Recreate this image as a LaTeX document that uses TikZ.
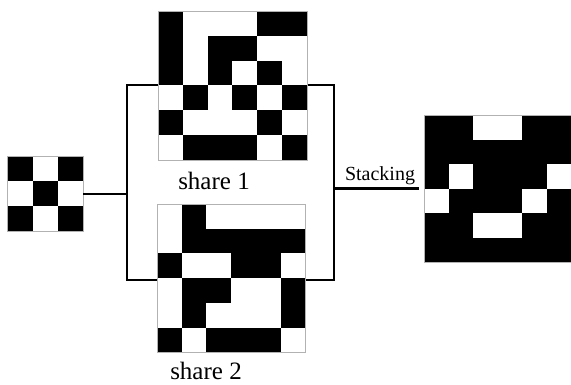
\documentclass[tikz,border=0pt]{standalone}
\usepackage{fontspec}
\setmainfont{Liberation Serif}
\tikzset{
  gridbox/.style={draw=gray!60, line width=0.6pt, fill=white, inner sep=0pt, outer sep=0pt, anchor=north west},
  gridline/.style={draw=gray!60, line width=0.6pt},
  conn/.style={line width=2.2pt, line cap=rect},
  sharelabel/.style={font=\fontsize{25}{30}\selectfont, anchor=base, inner sep=0pt},
  stacklabel/.style={font=\fontsize{20}{24}\selectfont, anchor=base, inner sep=0pt}
}
\newcommand\pixgrid[6]{%
  \pgfmathsetmacro\gsz{#4*#5}%
  \node[gridbox, minimum width=\gsz pt, minimum height=\gsz pt] (#1) at (#2,#3) {};
  \foreach \row [count=\r from 0] in {#6} {
    \foreach \v [count=\c from 0] in \row {
      \ifnum\v=1 \fill[black] (#2+\c*#4, #3+\r*#4) rectangle +(#4,#4); \fi
    }
  }
  \draw[gridline] (#1.north west) rectangle (#1.south east);
}
\begin{document}
\begin{tikzpicture}[x=1pt, y=-1pt]
\useasboundingbox (0,0) rectangle (571,384);
% bracket frame
\coordinate (tl) at (127,85);
\coordinate (br) at (334,280);
\coordinate (tr) at (334,85);
\coordinate (bl) at (127,280);
\draw[conn] (tl) -- (tr) -- (br) -- (bl) -- cycle;

% secret
\pixgrid{secret}{7.5}{156}{25.2}{3}{{1,0,1},{0,1,0},{1,0,1}}
% share 1
\pixgrid{share1}{158}{11}{24.8}{6}{{1,0,0,0,1,1},{1,0,1,1,0,0},{1,0,1,0,1,0},{0,1,0,1,0,1},{1,0,0,0,1,0},{0,1,1,1,0,1}}
% share 2
\pixgrid{share2}{157}{204}{24.7}{6}{{0,1,0,0,0,0},{0,1,1,1,1,1},{1,0,0,1,1,0},{0,1,1,0,0,1},{0,1,0,0,0,1},{1,0,1,1,1,0}}
% result
\pixgrid{result}{424}{115}{24.5}{6}{{1,1,0,0,1,1},{1,1,1,1,1,1},{1,0,1,1,1,0},{0,1,1,1,0,1},{1,1,0,0,1,1},{1,1,1,1,1,1}}

% connectors
\draw[conn, line cap=butt] (secret.east) -- (secret.east -| tl);
\draw[conn, line cap=butt, shorten >=5pt] (tr |- result.west) -- (result.west);

% labels
\node[sharelabel] (lab1) at (214,189) {share 1};
\node[sharelabel] (lab2) at (206,379) {share 2};
\node[stacklabel] (labst) at (380,180) {Stacking};
\end{tikzpicture}
\end{document}
